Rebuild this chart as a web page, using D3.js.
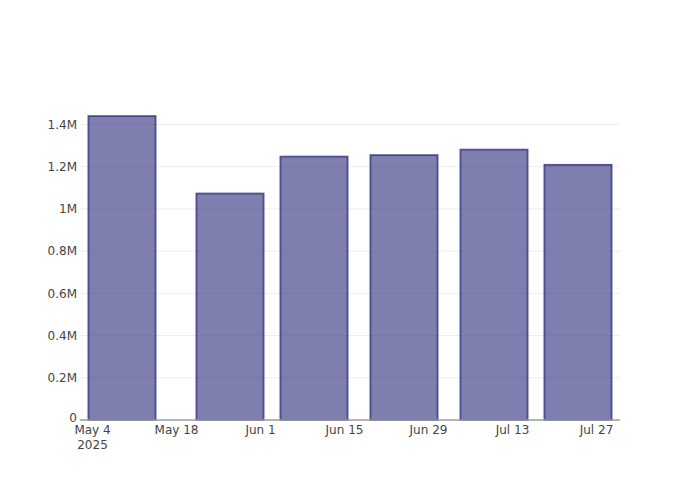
<!DOCTYPE html>
<html>
<head>
<meta charset="utf-8">
<script src="https://cdn.jsdelivr.net/npm/d3@7"></script>
<style>
  html, body { margin: 0; padding: 0; background: #fff; }
  svg { display: block; }
  text { font-family: "DejaVu Sans", sans-serif; }
</style>
</head>
<body>
<svg id="chart" width="700" height="500"></svg>
<script>
// Data
const dates = ["2025-05-09", "2025-05-27", "2025-06-10", "2025-06-25", "2025-07-10", "2025-07-24"];
const values = [1440000, 1073000, 1248000, 1255000, 1281000, 1209000];
const xTickDates = ["2025-05-04", "2025-05-18", "2025-06-01", "2025-06-15", "2025-06-29", "2025-07-13", "2025-07-27"];
const yTicks = [0, 200000, 400000, 600000, 800000, 1000000, 1200000, 1400000];

const parse = d3.utcParse("%Y-%m-%d");
const svg = d3.select("#chart");

const plot = { left: 80, right: 620, top: 100, bottom: 420 };
const FONT = "'DejaVu Sans', sans-serif";

const x = d3.scaleUtc()
  .domain([parse("2025-05-02"), parse("2025-07-31")])
  .range([plot.left, plot.right]);
const y = d3.scaleLinear()
  .domain([0, 1400000])
  .range([plot.bottom, 124.5]);

const dayPx = x(parse("2025-05-05")) - x(parse("2025-05-04"));
const barW = 0.8 * 14 * dayPx;

// gridlines
svg.append("g").selectAll("line")
  .data(yTicks.filter(d => d > 0))
  .join("line")
  .attr("x1", plot.left).attr("x2", plot.right)
  .attr("y1", d => y(d)).attr("y2", d => y(d))
  .attr("stroke", "#eeeeee").attr("stroke-width", 1);

// bars
svg.append("g").selectAll("rect")
  .data(dates.map((d, i) => ({ date: parse(d), value: values[i] })))
  .join("rect")
  .attr("x", d => x(d.date) - barW / 2)
  .attr("width", barW)
  .attr("y", d => y(d.value))
  .attr("height", d => y(0) - y(d.value))
  .attr("fill", "rgba(42,42,122,0.6)")
  .attr("stroke", "rgba(42,42,122,0.75)")
  .attr("stroke-width", 1.8);

// x axis line
svg.append("line")
  .attr("x1", plot.left).attr("x2", plot.right)
  .attr("y1", plot.bottom).attr("y2", plot.bottom)
  .attr("stroke", "#9a9a9a").attr("stroke-width", 1.5);

// x axis labels
const fmtX = d3.utcFormat("%b %-d");
const xAxis = d3.axisBottom(x)
  .tickValues(xTickDates.map(parse))
  .tickFormat(fmtX)
  .tickSize(0);
const gx = svg.append("g")
  .attr("transform", `translate(0,${plot.bottom})`)
  .call(xAxis);
gx.select(".domain").remove();
gx.selectAll("text")
  .attr("y", 13.5)
  .attr("dy", 0)
  .attr("font-family", FONT)
  .attr("font-size", 12)
  .attr("fill", "#444");
gx.selectAll(".tick").filter((d, i) => i === 0)
  .append("text")
  .attr("y", 28.5)
  .attr("fill", "#444")
  .attr("font-family", FONT)
  .attr("font-size", 12)
  .attr("text-anchor", "middle")
  .text("2025");

// y axis labels
const fmtY = d => d === 0 ? "0" : (d / 1e6) + "M";
const yAxis = d3.axisLeft(y)
  .tickValues(yTicks)
  .tickFormat(fmtY)
  .tickSize(0)
  .tickPadding(3);
const gy = svg.append("g")
  .attr("transform", `translate(${plot.left},0)`)
  .call(yAxis);
gy.select(".domain").remove();
gy.selectAll("text")
  .attr("font-family", FONT)
  .attr("font-size", 12)
  .attr("fill", "#444");
gy.selectAll(".tick").filter(d => d === 0).select("text")
  .attr("dy", "0.1em");
</script>
</body>
</html>
